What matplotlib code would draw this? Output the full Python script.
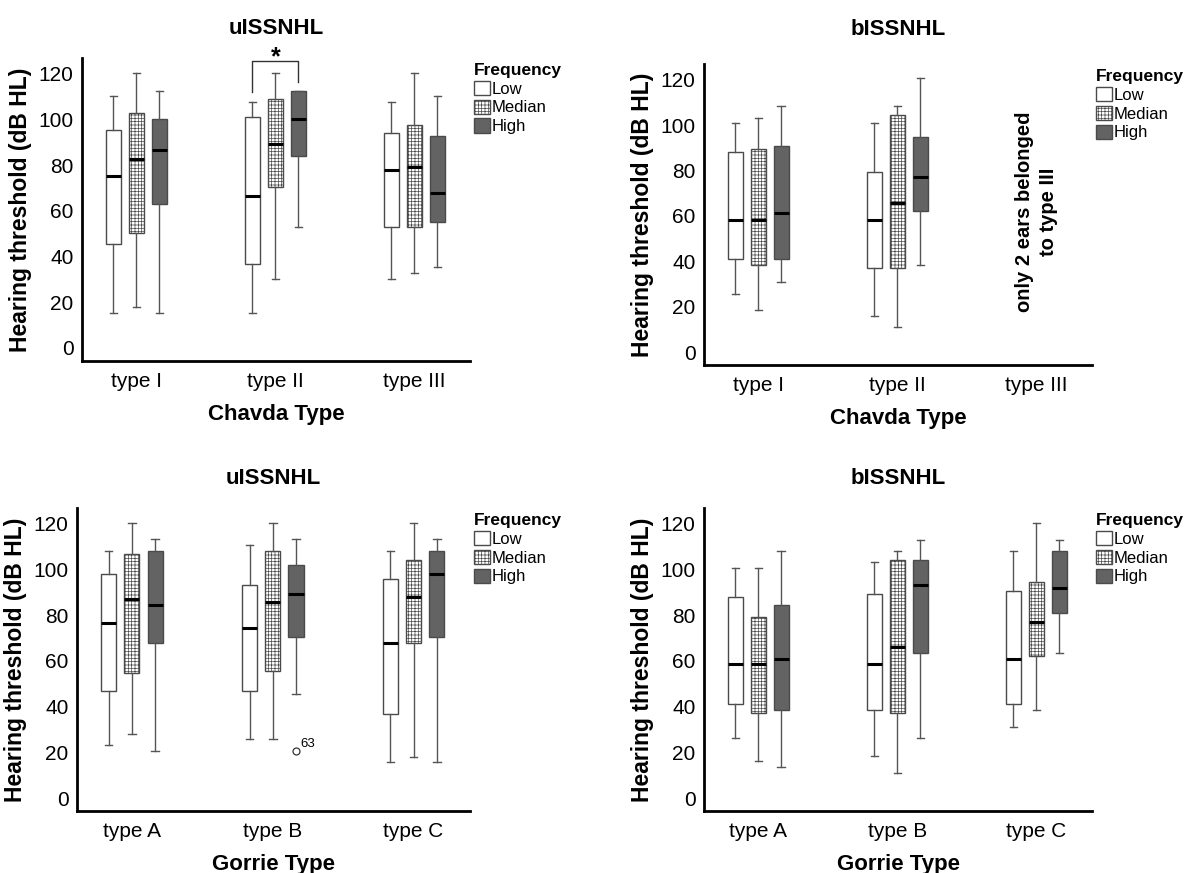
import matplotlib.pyplot as plt
from matplotlib.patches import Patch

plt.rcParams['font.family'] = ['Liberation Sans', 'DejaVu Sans']
plt.rcParams['hatch.linewidth'] = 0.5

# data: (whisker low, Q1, median, Q3, whisker high) per frequency (Low, Median, High)
freq_labels = ['Low', 'Median', 'High']
chavda_types = ['type I', 'type II', 'type III']
gorrie_types = ['type A', 'type B', 'type C']

u_chavda = [
    [(15.2, 45.4, 75.3, 95.5, 110.4), (17.8, 50.5, 82.9, 102.8, 120.3), (15.2, 62.9, 86.7, 100.2, 112.7)],
    [(15.2, 36.7, 66.7, 101.3, 107.9), (30.2, 70.4, 89.2, 108.9, 120.3), (52.9, 84.1, 100.3, 112.7, 112.7)],
    [(30.2, 52.9, 78.0, 94.0, 107.9), (33.0, 52.9, 79.1, 97.7, 120.3), (35.3, 55.3, 67.9, 92.7, 110.4)],
]
b_chavda = [
    [(25.8, 41.0, 58.4, 88.2, 101.0), (18.5, 38.6, 58.4, 89.7, 103.4), (31.0, 41.0, 61.1, 90.7, 108.4)],
    [(16.0, 37.1, 58.4, 79.6, 101.0), (11.2, 37.1, 65.9, 104.5, 108.4), (38.3, 62.3, 77.2, 94.6, 120.9)],
    [],
]
u_gorrie = [
    [(23.1, 46.9, 76.8, 98.1, 108.2), (28.0, 54.6, 87.0, 106.9, 120.6), (20.6, 68.0, 84.4, 108.2, 113.3)],
    [(25.7, 46.9, 74.5, 93.2, 110.7), (25.7, 55.6, 85.9, 108.2, 120.6), (45.6, 70.7, 89.4, 101.9, 113.3)],
    [(15.6, 36.8, 68.0, 95.8, 108.2), (18.1, 68.0, 88.2, 104.4, 120.6), (15.6, 70.7, 98.3, 108.2, 113.3)],
]
b_gorrie = [
    [(26.1, 41.0, 58.6, 88.2, 100.6), (16.2, 37.4, 58.6, 79.4, 100.6), (13.7, 38.5, 60.9, 84.4, 108.2)],
    [(18.5, 38.5, 58.6, 89.4, 103.2), (11.1, 37.4, 66.0, 104.4, 108.2), (26.1, 63.4, 93.3, 104.4, 113.0)],
    [(31.0, 41.0, 60.9, 90.8, 108.2), (38.5, 62.2, 76.9, 94.5, 120.6), (63.4, 80.9, 92.1, 108.2, 113.0)],
]
# outlier in uISSNHL, Gorrie type B, High frequency
outlier_value = 20.6
outlier_case = '63'
# significance bracket, uISSNHL type II (Low vs High): left leg end, right leg end, top
sig_bracket = (112.0, 116.5, 125.7)

fills = ['white', 'white', '#636363']
hatches = [None, '+++++', None]
edge = '#4a4a4a'
offsets = [-0.165, 0.0, 0.165]
box_w = 0.107


def draw_panel(ax, data, cats, title, xlabel, fliers=None, title_pad=17):
    for j in range(3):
        stats = []
        pos = []
        for i, grp in enumerate(data):
            if not grp:
                continue
            lo, q1, med, q3, hi = grp[j]
            fl = []
            if fliers and (i, j) in fliers:
                fl = [fliers[(i, j)]]
            stats.append(dict(whislo=lo, q1=q1, med=med, q3=q3, whishi=hi, fliers=fl))
            pos.append(i + offsets[j])
        ax.bxp(stats, positions=pos, widths=box_w, capwidths=box_w * 0.5,
               patch_artist=True, manage_ticks=False,
               boxprops=dict(facecolor=fills[j], edgecolor=edge, linewidth=1.0, hatch=hatches[j]),
               medianprops=dict(color='black', linewidth=2.2),
               whiskerprops=dict(color='#555555', linewidth=1.0),
               capprops=dict(color='#555555', linewidth=1.0),
               flierprops=dict(marker='o', markerfacecolor='none', markeredgecolor='#333333',
                               markersize=5, markeredgewidth=0.9))
    ax.set_xlim(-0.39, 2.40)
    ax.set_ylim(-5.7, 127)
    ax.set_yticks([0, 20, 40, 60, 80, 100, 120])
    ax.set_xticks(range(3))
    ax.set_xticklabels(cats)
    ax.tick_params(length=0, labelsize=15, pad=6)
    ax.tick_params(axis='x', pad=8)
    for s in ['top', 'right']:
        ax.spines[s].set_visible(False)
    for s in ['left', 'bottom']:
        ax.spines[s].set_linewidth(2.0)
    ax.set_title(title, fontsize=16, fontweight='bold', pad=title_pad)
    ax.set_xlabel(xlabel, fontsize=16, fontweight='bold', labelpad=9)
    ax.set_ylabel('Hearing threshold (dB HL)', fontsize=16.5, fontweight='bold', labelpad=5)
    handles = [Patch(facecolor=fills[k], edgecolor=edge, hatch=hatches[k]) for k in range(3)]
    ax.legend(handles, freq_labels, title='Frequency', loc='upper left', bbox_to_anchor=(1.005, 0.99),
              frameon=False, alignment='left', fontsize=12,
              title_fontproperties={'weight': 'bold', 'size': 12.5},
              handlelength=1.0, handleheight=0.95, handletextpad=0.1, labelspacing=0.18,
              borderaxespad=0, borderpad=0.1)


fig = plt.figure(figsize=(11.84, 8.73), dpi=100)
ax1 = fig.add_axes([0.0693, 0.5865, 0.3277, 0.3471])
ax2 = fig.add_axes([0.5946, 0.5819, 0.3277, 0.3448])
ax3 = fig.add_axes([0.0650, 0.0710, 0.3319, 0.3471])
ax4 = fig.add_axes([0.5946, 0.0710, 0.3277, 0.3471])

draw_panel(ax1, u_chavda, chavda_types, 'uISSNHL', 'Chavda Type')
draw_panel(ax2, b_chavda, chavda_types, 'bISSNHL', 'Chavda Type', title_pad=21)
draw_panel(ax3, u_gorrie, gorrie_types, 'uISSNHL', 'Gorrie Type', fliers={(1, 2): outlier_value})
draw_panel(ax4, b_gorrie, gorrie_types, 'bISSNHL', 'Gorrie Type')

# significance bracket between Low and High of type II
x_l = 1 + offsets[0]
x_r = 1 + offsets[2]
ax1.plot([x_l, x_l, x_r, x_r], [sig_bracket[0], sig_bracket[2], sig_bracket[2], sig_bracket[1]],
         color='#333333', linewidth=1.0, clip_on=False)
ax1.text(1, sig_bracket[2] + 1.5, '*', ha='center', va='center', fontsize=18, fontweight='bold')

ax2.text(2, 62, 'only 2 ears belonged\nto type III', rotation=90, ha='center', va='center',
         multialignment='center', fontsize=14.5, fontweight='bold', linespacing=1.35)

ax3.annotate(outlier_case, xy=(1 + offsets[2], outlier_value), xytext=(3, 3),
             textcoords='offset points', fontsize=9.5)

fig.savefig('out.png', dpi=100)
